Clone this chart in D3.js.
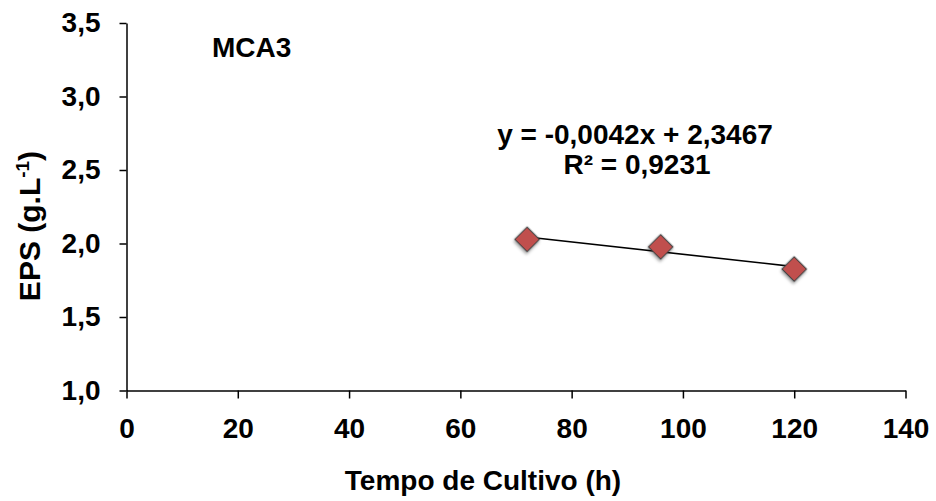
<!DOCTYPE html>
<html>
<head>
<meta charset="utf-8">
<script src="https://cdn.jsdelivr.net/npm/d3@7"></script>
<style>
  body { margin: 0; background: #fff; }
  text { font-family: "Liberation Sans", Arial, sans-serif; font-weight: bold; fill: #000; }
</style>
</head>
<body>
<svg width="936" height="501"></svg>
<script>
// Tempo de cultivo (h) e EPS (g/L)
const tempos = [72, 96, 120];
const eps = [2.028, 1.977, 1.826];
const xTicks = [0, 20, 40, 60, 80, 100, 120, 140];
const yTicks = [1.0, 1.5, 2.0, 2.5, 3.0, 3.5];
// regressão linear: y = a*x + b
const trend = [-0.0042, 2.3467];

const svg = d3.select("svg");
const fmt = d => d.toFixed(1).replace(".", ",");

const xScale = d3.scaleLinear().domain([0, 140]).range([126.5, 905.5]);
const yScale = d3.scaleLinear().domain([1.0, 3.5]).range([390.5, 23]);

const defs = svg.append("defs");
const f = defs.append("filter").attr("id", "sombra")
  .attr("x", "-50%").attr("y", "-50%").attr("width", "200%").attr("height", "200%");
f.append("feDropShadow").attr("dx", 1).attr("dy", 2).attr("stdDeviation", 1.5)
  .attr("flood-color", "#000").attr("flood-opacity", 0.35);

const estiloTick = g => {
  g.select(".domain").attr("stroke", "#000").attr("stroke-width", 1.5);
  g.selectAll(".tick line").attr("stroke", "#000").attr("stroke-width", 1.5);
  g.selectAll(".tick text")
    .style("font-size", "28px")
    .style("font-family", "Liberation Sans, Arial, sans-serif")
    .style("font-weight", "bold")
    .attr("fill", "#000");
};

// eixo x
svg.append("g")
  .attr("transform", `translate(0,${yScale(1.0)})`)
  .call(d3.axisBottom(xScale).tickValues(xTicks).tickSize(8).tickSizeOuter(0).tickPadding(20).tickFormat(d3.format("d")))
  .call(estiloTick);

// eixo y
svg.append("g")
  .attr("transform", `translate(${xScale(0)},0)`)
  .call(d3.axisLeft(yScale).tickValues(yTicks).tickSize(7).tickSizeOuter(0).tickPadding(19).tickFormat(fmt))
  .call(estiloTick);

// linha de tendência
const x0 = d3.min(tempos), x1 = d3.max(tempos);
svg.append("line")
  .attr("x1", xScale(x0)).attr("y1", yScale(trend[0] * x0 + trend[1]))
  .attr("x2", xScale(x1)).attr("y2", yScale(trend[0] * x1 + trend[1]))
  .attr("stroke", "#000").attr("stroke-width", 1.6);

// pontos
svg.append("g").selectAll("path")
  .data(tempos)
  .enter()
  .append("path")
  .attr("d", d3.symbol(d3.symbolSquare, 300))
  .attr("transform", (d, i) => `translate(${xScale(d)},${yScale(eps[i])}) rotate(45)`)
  .attr("fill", "#c0504d")
  .attr("stroke", "#404040")
  .attr("stroke-width", 1.2)
  .attr("filter", "url(#sombra)");

// textos
svg.append("text").attr("x", 212).attr("y", 57).style("font-size", "28px").text("MCA3");

svg.append("text").attr("x", 635).attr("y", 144).attr("text-anchor", "middle")
  .style("font-size", "28px").text("y = -0,0042x + 2,3467");
svg.append("text").attr("x", 637).attr("y", 174).attr("text-anchor", "middle")
  .style("font-size", "28px").text("R² = 0,9231");

svg.append("text").attr("x", 483).attr("y", 490).attr("text-anchor", "middle")
  .style("font-size", "28px").text("Tempo de Cultivo (h)");

svg.append("text")
  .attr("transform", "translate(40,226) rotate(-90)")
  .attr("text-anchor", "middle")
  .style("font-size", "30px")
  .html('EPS (g.L<tspan dy="-11" font-size="19px">-1</tspan><tspan dy="11">)</tspan>');
</script>
</body>
</html>
